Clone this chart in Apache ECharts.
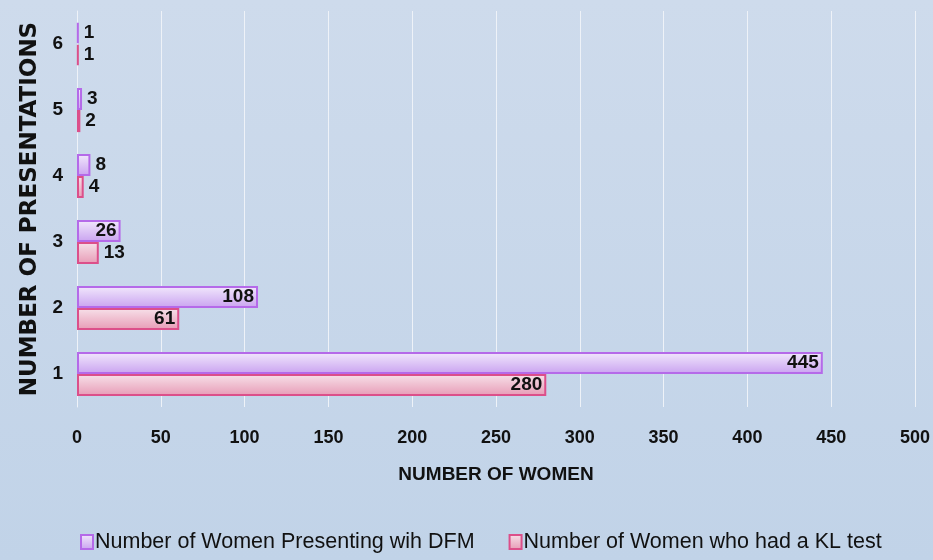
<!DOCTYPE html>
<html>
<head>
<meta charset="utf-8">
<script src="https://cdn.jsdelivr.net/npm/echarts@6/dist/echarts.min.js"></script>
<style>
  html, body { margin: 0; padding: 0; }
  #chart { width: 933px; height: 560px; }
</style>
</head>
<body>
<div id="chart"></div>
<script>
// Presentations with decreased fetal movement (DFM) and Kleihauer (KL) tests
var categories = ['1', '2', '3', '4', '5', '6'];
var dfmWomen = [445, 108, 26, 8, 3, 1];
var klWomen = [280, 61, 13, 4, 2, 1];
var xTicks = [0, 50, 100, 150, 200, 250, 300, 350, 400, 450, 500];

var seriesNames = ['Number of Women Presenting wih DFM', 'Number of Women who had a KL test'];
var FONT = '"Liberation Sans Narrow", "Liberation Sans", sans-serif';

function grad(top, bottom) {
  return new echarts.graphic.LinearGradient(0, 0, 0, 1, [
    { offset: 0, color: top },
    { offset: 1, color: bottom }
  ]);
}

// big bars carry their value inside the end, small ones just past it
function withLabels(values) {
  return values.map(function (v) {
    return {
      value: v,
      label: { position: v >= 20 ? 'insideRight' : 'right', distance: v >= 20 ? 4 : 5 }
    };
  });
}

var chart = echarts.init(document.getElementById('chart'));
chart.setOption({
  backgroundColor: grad('#cedbec', '#c1d3e8'),
  animation: false,
  grid: { left: 77, right: 15, top: 11, bottom: 153, containLabel: false },
  xAxis: {
    type: 'value',
    min: xTicks[0],
    max: xTicks[xTicks.length - 1],
    interval: 50,
    name: 'NUMBER OF WOMEN',
    nameLocation: 'middle',
    nameGap: 58,
    nameTextStyle: { fontFamily: FONT, fontWeight: 'bold', fontSize: 19, color: '#111' },
    axisLine: { show: false },
    axisTick: { show: false },
    axisLabel: { fontFamily: FONT, fontWeight: 'bold', fontSize: 18, color: '#111', margin: 22 },
    splitLine: { show: true, lineStyle: { color: '#eef2f8', width: 1 } }
  },
  yAxis: {
    type: 'category',
    data: categories,
    name: 'NUMBER OF PRESENTATIONS',
    nameLocation: 'middle',
    nameGap: 31,
    nameRotate: 90,
    nameTextStyle: { fontFamily: '"DejaVu Sans", sans-serif', fontWeight: 'bold', fontSize: 23, color: '#111' },
    axisLine: { show: true, lineStyle: { color: '#eef2f8', width: 1 } },
    axisTick: { show: false },
    axisLabel: { fontFamily: FONT, fontWeight: 'bold', fontSize: 19, color: '#111', margin: 14 },
    splitLine: { show: false }
  },
  legend: {
    data: seriesNames,
    bottom: 2,
    left: 75,
    icon: 'rect',
    itemWidth: 12,
    itemHeight: 14,
    itemGap: 34,
    textStyle: { fontFamily: FONT, fontSize: 21.5, color: '#111', padding: [0, 0, 0, -3] }
  },
  series: [
    {
      name: seriesNames[0],
      type: 'bar',
      data: withLabels(dfmWomen),
      barGap: '0%',
      barCategoryGap: '33%',
      itemStyle: { color: grad('#f2e9fc', '#c9a2f0'), borderColor: '#b56ae9', borderWidth: 2 },
      label: { show: true, fontFamily: FONT, fontWeight: 'bold', fontSize: 19, color: '#111' }
    },
    {
      name: seriesNames[1],
      type: 'bar',
      data: withLabels(klWomen),
      barGap: '0%',
      barCategoryGap: '33%',
      itemStyle: { color: grad('#f7e2ea', '#e79ab5'), borderColor: '#dc4f8a', borderWidth: 2 },
      label: { show: true, fontFamily: FONT, fontWeight: 'bold', fontSize: 19, color: '#111' }
    }
  ]
});
</script>
</body>
</html>
